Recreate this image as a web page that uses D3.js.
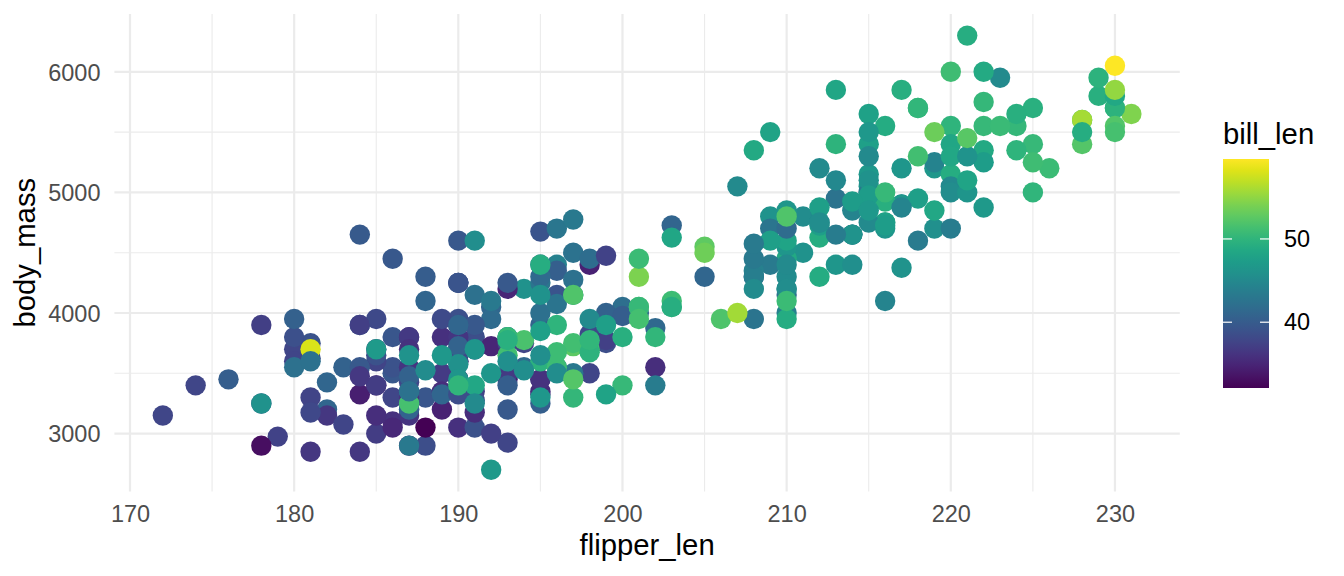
<!DOCTYPE html>
<html>
<head>
<meta charset="utf-8">
<script src="https://cdn.jsdelivr.net/npm/d3@7"></script>
<style>
  body { margin: 0; background: #ffffff; }
  svg text { font-family: "Liberation Sans", Arial, sans-serif; }
</style>
</head>
<body>
<svg id="graph1"></svg>
<script>
// penguins: flipper_len, body_mass, bill_len (one entry per dot)
var flipperLen = [
  181,186,195,193,190,181,195,193,190,186,180,182,191,198,185,195,197,184,194,174,
  180,189,185,180,187,183,187,172,180,178,178,188,184,195,196,190,180,181,184,182,
  195,186,196,185,190,182,179,190,191,186,188,190,200,187,191,186,193,181,194,185,
  195,185,192,184,192,195,188,190,198,190,190,196,197,190,195,191,184,187,195,189,
  196,187,193,191,194,190,189,189,190,202,205,185,186,187,208,190,196,178,192,192,
  203,183,190,193,184,199,190,181,197,198,191,193,197,191,196,188,199,189,189,187,
  198,176,202,186,199,191,195,191,210,190,197,193,199,187,190,191,200,185,193,193,
  187,188,190,192,185,190,184,195,193,187,201,
  211,230,210,218,215,210,211,219,209,215,214,216,214,213,210,217,210,221,209,222,
  218,215,213,215,215,215,216,215,210,220,222,209,207,230,220,220,213,219,208,208,
  208,225,210,216,222,217,210,225,213,215,210,220,210,225,217,220,208,220,208,224,
  208,221,214,231,219,230,214,229,220,223,216,221,221,217,216,230,209,220,215,223,
  212,221,212,224,212,228,218,218,212,230,218,228,212,224,214,226,216,222,203,225,
  219,228,215,228,216,215,210,219,208,209,216,229,213,230,217,230,217,222,214,215,
  222,212,213,
  192,196,193,188,197,198,178,197,195,198,193,194,185,201,190,201,197,181,190,195,
  181,191,187,193,195,197,200,200,191,205,187,201,187,203,195,199,195,210,192,205,
  210,187,196,196,196,201,190,212,187,198,199,201,193,203,187,197,191,203,202,194,
  206,189,195,207,202,193,210,198
];
var bodyMass = [
  3750,3800,3250,3450,3650,3625,4675,3475,4250,3300,3700,3200,3800,4400,3700,3450,4500,3325,4200,3400,
  3600,3800,3950,3800,3800,3550,3200,3150,3950,3250,3900,3300,3900,3325,4150,3950,3550,3300,4650,3150,
  3900,3100,4400,3000,4600,3425,2975,3450,4150,3500,4300,3450,4050,2900,3700,3550,3800,2850,3750,3150,
  4400,3600,4050,2850,3950,3350,4100,3050,4450,3600,3900,3550,4150,3700,4250,3700,3900,3550,4000,3200,
  4700,3800,4200,3350,3550,3800,3500,3950,3600,3550,4300,3400,4450,3300,4300,3700,4350,2900,4100,3725,
  4725,3075,4250,2925,3550,3750,3900,3175,4775,3825,4600,3200,4275,3900,4075,2900,3775,3350,3325,3150,
  3500,3450,3875,3050,4000,3275,4300,3050,4000,3325,3500,3500,4475,3425,3900,3175,3975,3400,4250,3400,
  3475,3050,3725,3000,3650,4250,3475,3450,3750,3700,4000,
  4500,5700,4450,5700,5400,4550,4800,5200,4400,5150,4650,5550,4650,5850,4200,5850,4150,6300,4800,5350,
  5700,5000,4400,5050,5000,5100,4100,5650,4600,5550,5250,4700,5050,6050,5150,5400,4950,5250,4350,5350,
  3950,5700,4300,4750,5550,4900,4200,5400,5100,5300,4850,5300,4400,5000,4900,5050,4300,5000,4450,5550,
  4200,5300,4400,5650,4700,5700,4650,5800,4700,5550,4750,5000,5100,5200,4700,5800,4600,6000,4750,5950,
  4625,5450,4725,5350,4750,5600,4600,5300,4875,5550,4950,5400,4750,5650,4850,5200,4925,4875,4625,5250,
  4850,5600,4975,5500,4725,5500,4700,5500,4575,5500,5000,5950,4650,5500,4375,5850,4875,6000,4925,4850,
  5750,5200,5400,
  3500,3900,3650,3525,3725,3950,3250,3750,4150,3700,3800,3775,3700,4050,3575,4050,3300,3700,3450,4400,
  3600,3400,2900,3800,3300,4150,3400,3800,3700,4550,3200,4300,3350,4100,3600,3900,3850,4800,2700,4500,
  3950,3650,3550,3500,3675,4450,3400,4300,3250,3675,3325,3950,3600,4050,3350,3450,3250,4050,3800,3525,
  3950,3650,3650,4000,3400,3775,4100,3775
];
var billLen = [
  39.1,39.5,40.3,36.7,39.3,38.9,39.2,34.1,42.0,37.8,37.8,41.1,38.6,34.6,36.6,38.7,42.5,34.4,46.0,37.8,
  37.7,35.9,38.2,38.8,35.3,40.6,40.5,37.9,40.5,39.5,37.2,39.5,40.9,36.4,39.2,38.8,42.2,37.6,39.8,36.5,
  40.8,36.0,44.1,37.0,39.6,41.1,37.5,36.0,42.3,39.6,40.1,35.0,42.0,34.5,41.4,39.0,40.6,36.5,37.6,35.7,
  41.3,37.6,41.1,36.4,41.6,35.5,41.1,35.9,41.8,33.5,39.7,39.6,45.8,35.5,42.8,40.9,37.2,36.2,42.1,34.6,
  42.9,36.7,35.1,37.3,41.3,36.3,36.9,38.3,38.9,35.7,41.1,34.0,39.6,36.2,40.8,38.1,40.3,33.1,43.2,35.0,
  41.0,37.7,37.8,37.9,39.7,38.6,38.2,38.1,43.2,38.1,45.6,39.7,42.2,39.6,42.7,38.6,37.3,35.7,41.1,36.2,
  37.7,40.2,41.4,35.2,40.6,38.8,41.5,39.0,44.1,38.5,43.1,36.8,37.5,38.1,41.1,35.6,40.2,37.0,39.7,40.2,
  40.6,32.1,40.7,37.3,39.0,39.2,36.6,36.0,37.8,36.0,41.5,
  46.1,50.0,48.7,50.0,47.6,46.5,45.4,46.7,43.3,46.8,40.9,49.0,45.5,48.4,45.8,49.3,42.0,49.2,46.2,48.7,
  50.2,45.1,46.5,46.3,42.9,46.1,44.5,47.8,48.2,50.0,47.3,42.8,45.1,59.6,49.1,48.4,42.6,44.4,44.0,48.7,
  42.7,49.6,45.3,49.6,50.5,43.6,45.5,50.5,44.9,45.2,46.6,48.5,45.1,50.1,46.5,45.0,43.8,45.5,43.2,50.4,
  45.3,46.2,45.7,54.3,45.8,49.8,46.2,49.5,43.5,50.7,47.7,46.4,48.2,46.5,46.4,48.6,47.5,51.1,45.2,45.2,
  49.1,52.5,47.4,50.0,44.9,50.8,43.4,51.3,47.5,52.1,47.5,52.2,45.5,49.5,44.5,50.8,49.4,46.9,48.4,51.1,
  48.5,55.9,47.2,49.1,47.3,46.8,41.7,53.4,43.3,48.1,50.5,49.8,43.5,51.5,46.2,55.1,44.5,48.8,47.2,46.8,
  50.4,45.2,49.9,
  46.5,50.0,51.3,45.4,52.7,45.2,46.1,51.3,46.0,51.3,46.6,51.7,47.0,52.0,45.9,50.5,50.3,58.0,46.4,49.2,
  42.4,48.5,43.2,50.6,46.7,52.0,50.5,49.5,46.4,52.8,40.9,54.2,42.5,51.0,49.7,47.5,47.6,52.0,46.9,53.5,
  49.0,46.2,50.9,45.5,50.9,50.8,50.1,49.0,51.5,49.8,48.1,51.4,45.7,50.7,42.5,52.2,45.2,49.3,50.2,45.6,
  51.9,46.8,45.7,55.8,43.5,49.6,50.8,50.2
];
var xTicks = [170, 180, 190, 200, 210, 220, 230];
var xMinor = [175, 185, 195, 205, 215, 225];
var yTicks = [3000, 4000, 5000, 6000];
var yMinor = [3500, 4500, 5500];
var legendTicks = [40, 50];

var makeTranslateString = function(x,y)
{
    return "translate("+x+","+y+")";
}

var svgw = 1344
var svgh = 576
var panel = {left: 114.4, right: 1179.8, top: 13.9, bottom: 491.5}

// ggplot style 5% padding around the data range
var expand = function(ext)
{
    var pad = (ext[1]-ext[0])*0.05
    return [ext[0]-pad, ext[1]+pad]
}

var svg = d3.select("#graph1")
    .attr("width",svgw)
    .attr("height",svgh)

var xscale = d3.scaleLinear()
    .domain(expand(d3.extent(flipperLen)))
    .range([panel.left,panel.right])

var yscale = d3.scaleLinear()
    .domain(expand(d3.extent(bodyMass)))
    .range([panel.bottom,panel.top])

var colorExt = d3.extent(billLen)
var cscale = d3.scaleSequential(d3.interpolateViridis)
    .domain(colorExt)

var drawGrid = function(target)
{
    var grid = target.append("g").attr("id","grid")
    grid.selectAll("line.xminor")
    .data(xMinor)
    .enter()
    .append("line")
    .attr("x1",function(d){return xscale(d)})
    .attr("x2",function(d){return xscale(d)})
    .attr("y1",panel.top)
    .attr("y2",panel.bottom)
    .attr("stroke","#ebebeb")
    .attr("stroke-width",1.1)
    grid.selectAll("line.yminor")
    .data(yMinor)
    .enter()
    .append("line")
    .attr("y1",function(d){return yscale(d)})
    .attr("y2",function(d){return yscale(d)})
    .attr("x1",panel.left)
    .attr("x2",panel.right)
    .attr("stroke","#ebebeb")
    .attr("stroke-width",1.1)
    grid.selectAll("line.xmajor")
    .data(xTicks)
    .enter()
    .append("line")
    .attr("x1",function(d){return xscale(d)})
    .attr("x2",function(d){return xscale(d)})
    .attr("y1",panel.top)
    .attr("y2",panel.bottom)
    .attr("stroke","#ebebeb")
    .attr("stroke-width",2.2)
    grid.selectAll("line.ymajor")
    .data(yTicks)
    .enter()
    .append("line")
    .attr("y1",function(d){return yscale(d)})
    .attr("y2",function(d){return yscale(d)})
    .attr("x1",panel.left)
    .attr("x2",panel.right)
    .attr("stroke","#ebebeb")
    .attr("stroke-width",2.2)
}

var drawPoints = function(target)
{
    target.append("g")
    .attr("id","points")
    .selectAll("circle")
    .data(d3.range(flipperLen.length))
    .enter()
    .append("circle")
    .attr("cx",function(i){return xscale(flipperLen[i])})
    .attr("cy",function(i){return yscale(bodyMass[i])})
    .attr("r",10.2)
    .attr("fill",function(i){return cscale(billLen[i])})
}

var drawAxes = function(target)
{
    var xAxis = d3.axisBottom(xscale)
        .tickValues(xTicks)
        .tickSize(0)
        .tickPadding(0)
        .tickFormat(d3.format("d"))
    var gx = target.append("g")
    .attr("transform", makeTranslateString(0, 522))
    .call(xAxis)
    gx.select(".domain").remove()
    gx.selectAll("text")
    .attr("y",0)
    .attr("dy",0)
    .attr("fill","#4d4d4d")
    .style("font-size","23.5px")
    .style("font-family","'Liberation Sans', Arial, sans-serif")

    var yAxis = d3.axisLeft(yscale)
        .tickValues(yTicks)
        .tickSize(0)
        .tickPadding(0)
        .tickFormat(d3.format("d"))
    var gy = target.append("g")
    .attr("transform", makeTranslateString(100.5, 0))
    .call(yAxis)
    gy.select(".domain").remove()
    gy.selectAll("text")
    .attr("x",0)
    .attr("dy","0.35em")
    .attr("fill","#4d4d4d")
    .style("font-size","23.5px")
    .style("font-family","'Liberation Sans', Arial, sans-serif")
}

var drawLabels = function(target)
{
    target.append("text")
    .text("flipper_len")
    .attr("text-anchor","middle")
    .attr("x",(panel.left+panel.right)/2)
    .attr("y",555)
    .style("font-size","29.3px")
    .attr("fill","#000000")

    target.append("text")
    .text("body_mass")
    .attr("text-anchor","middle")
    .attr("transform",makeTranslateString(35,(panel.top+panel.bottom)/2)+" rotate(-90)")
    .style("font-size","29.3px")
    .attr("fill","#000000")
}

var drawLegend = function(target)
{
    var bar = {x:1223, y:159, w:46, h:229}
    var lscale = d3.scaleLinear()
        .domain(colorExt)
        .range([bar.y+bar.h, bar.y])

    var grad = target.append("defs")
    .append("linearGradient")
    .attr("id","viridisGrad")
    .attr("x1",0).attr("y1",1).attr("x2",0).attr("y2",0)
    grad.selectAll("stop")
    .data(d3.range(0,1.0001,0.05))
    .enter()
    .append("stop")
    .attr("offset",function(t){return t})
    .attr("stop-color",function(t){return d3.interpolateViridis(t)})

    var legend = target.append("g").classed("legend",true)

    legend.append("text")
    .text("bill_len")
    .attr("x",bar.x)
    .attr("y",144)
    .style("font-size","29.3px")
    .attr("fill","#000000")

    legend.append("rect")
    .attr("x",bar.x)
    .attr("y",bar.y)
    .attr("width",bar.w)
    .attr("height",bar.h)
    .attr("fill","url(#viridisGrad)")

    var ticks = legend.selectAll("g.tick")
    .data(legendTicks)
    .enter()
    .append("g")
    .attr("transform",function(d){return makeTranslateString(0,lscale(d))})
    ticks.append("line")
    .attr("x1",bar.x).attr("x2",bar.x+9)
    .attr("stroke","#ffffff").attr("stroke-width",1.2)
    ticks.append("line")
    .attr("x1",bar.x+bar.w-9).attr("x2",bar.x+bar.w)
    .attr("stroke","#ffffff").attr("stroke-width",1.2)
    ticks.append("text")
    .text(function(d){return d})
    .attr("x",1284)
    .attr("dy","0.35em")
    .style("font-size","23.5px")
    .attr("fill","#000000")
}

drawGrid(svg)
drawPoints(svg)
drawAxes(svg)
drawLabels(svg)
drawLegend(svg)
</script>
</body>
</html>
